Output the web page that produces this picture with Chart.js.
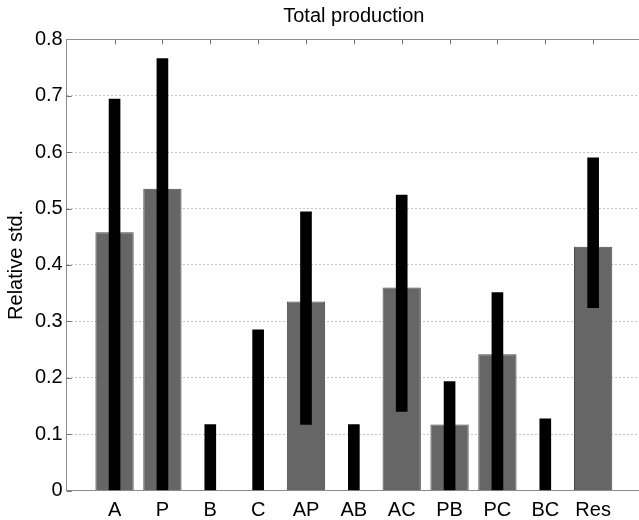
<!DOCTYPE html>
<html>
<head>
<meta charset="utf-8">
<script src="https://cdn.jsdelivr.net/npm/chart.js@4/dist/chart.umd.min.js"></script>
<style>
  html, body { margin: 0; padding: 0; background: #fff; overflow: hidden; }
  #wrap { width: 639px; height: 520px; overflow: hidden; }
</style>
</head>
<body>
<div id="wrap"><canvas id="chart" width="660" height="520"></canvas></div>
<script>
const categories = ["A", "P", "B", "C", "AP", "AB", "AC", "PB", "PC", "BC", "Res"];
// grey bars: relative std
const meanStd = [0.458, 0.535, 0, 0, 0.335, 0, 0.36, 0.117, 0.2415, 0, 0.432];
// black bars: low / high of the range
const rangeLow = [0, 0, 0, 0, 0.117, 0, 0.14, 0, 0, 0, 0.324];
const rangeHigh = [0.694, 0.766, 0.117, 0.285, 0.494, 0.117, 0.524, 0.193, 0.351, 0.127, 0.59];
const yTicks = [0, 0.1, 0.2, 0.3, 0.4, 0.5, 0.6, 0.7, 0.8];

const FONT = "'Liberation Sans', Arial, Helvetica, sans-serif";
const AXIS = "#8c8c8c";

// matlab style box: top edge + inward tick marks
const axesBox = {
  id: "axesBox",
  beforeDatasetsDraw(chart) {
    const { ctx, chartArea, scales } = chart;
    ctx.save();
    ctx.strokeStyle = "#707070";
    ctx.lineWidth = 1;
    ctx.beginPath();
    categories.forEach((c, i) => {
      const x = Math.round(scales.x.getPixelForValue(i + 1)) + 0.5;
      ctx.moveTo(x, chartArea.top);
      ctx.lineTo(x, chartArea.top + 5);
      ctx.moveTo(x, chartArea.bottom);
      ctx.lineTo(x, chartArea.bottom - 5);
    });
    yTicks.forEach(v => {
      const y = Math.round(scales.y.getPixelForValue(v)) + 0.5;
      ctx.moveTo(chartArea.left, y);
      ctx.lineTo(chartArea.left + 5, y);
    });
    ctx.stroke();
    ctx.restore();
  },
  afterDraw(chart) {
    const { ctx, chartArea } = chart;
    ctx.save();
    ctx.strokeStyle = AXIS;
    ctx.lineWidth = 1;
    ctx.beginPath();
    const y = Math.round(chartArea.top) + 0.5;
    ctx.moveTo(chartArea.left, y);
    ctx.lineTo(chartArea.right, y);
    ctx.stroke();
    ctx.restore();
  }
};

new Chart(document.getElementById("chart"), {
  type: "bar",
  data: {
    datasets: [
      {
        label: "range",
        data: categories.map((c, i) => ({ x: i + 1, y: [rangeLow[i], rangeHigh[i]] })),
        backgroundColor: "#000000",
        borderWidth: 0,
        barThickness: 11,
        grouped: false,
        order: 0,
      },
      {
        label: "relative std",
        data: categories.map((c, i) => ({ x: i + 1, y: meanStd[i] })),
        backgroundColor: "#666666",
        borderColor: "#4a4a4a",
        borderWidth: 1,
        barPercentage: 0.8,
        categoryPercentage: 1,
        grouped: false,
        order: 1,
      },
    ],
  },
  options: {
    responsive: false,
    devicePixelRatio: 1,
    animation: false,
    layout: { padding: { left: 0, right: 19, top: 0, bottom: 0 } },
    plugins: {
      legend: { display: false },
      tooltip: { enabled: false },
      title: {
        display: true,
        text: "Total production",
        fullSize: false,
        color: "#000",
        font: { family: FONT, size: 20, weight: "normal" },
        padding: { top: 4, bottom: 11.3 },
      },
    },
    scales: {
      x: {
        type: "linear",
        offset: false,
        min: 0,
        max: 12,
        grid: { display: false },
        border: { display: true, color: AXIS, width: 1 },
        ticks: {
          stepSize: 1,
          autoSkip: false,
          maxRotation: 0,
          padding: 0,
          color: "#000",
          font: { family: FONT, size: 20 },
          callback: v => categories[v - 1] || "",
        },
        afterFit: s => { s.height = 29.5; },
      },
      y: {
        min: 0,
        max: 0.8,
        grid: { color: "#c4c4c4", drawTicks: false },
        border: { display: true, color: AXIS, width: 1, dash: [2, 2] },
        ticks: {
          stepSize: 0.1,
          padding: 4,
          color: "#000",
          font: { family: FONT, size: 20 },
          callback: v => (v === 0 ? "0" : v.toFixed(1)),
        },
        title: {
          display: true,
          text: "Relative std.",
          color: "#000",
          font: { family: FONT, size: 20 },
          padding: { top: 4, bottom: 0 },
        },
        afterFit: s => { s.width = 66.7; },
      },
    },
  },
  plugins: [axesBox],
});
</script>
</body>
</html>
